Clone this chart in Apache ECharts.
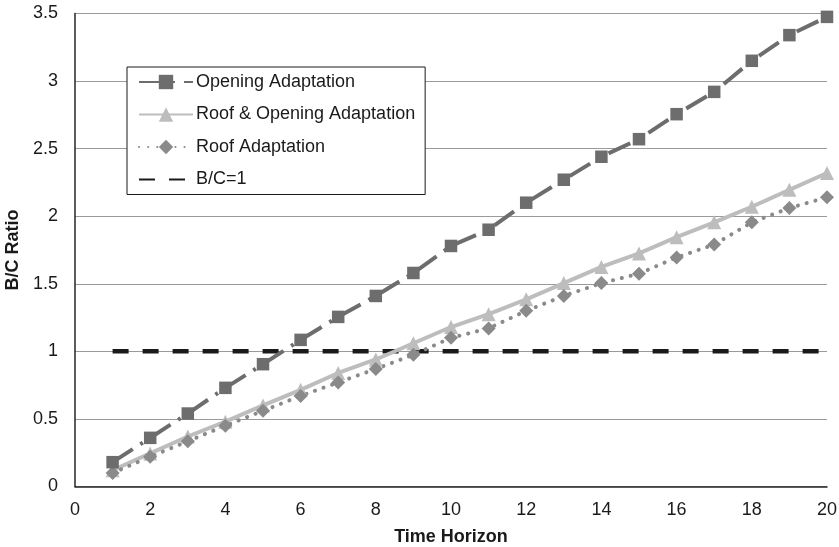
<!DOCTYPE html>
<html>
<head>
<meta charset="utf-8">
<script src="https://cdn.jsdelivr.net/npm/echarts@6/dist/echarts.min.js"></script>
<style>
  html, body { margin: 0; padding: 0; background: #fff; }
  #chart { width: 839px; height: 547px; }
</style>
</head>
<body>
<div id="chart"></div>
<script>
// Time horizon (years) and benefit/cost ratios for each adaptation option
const years = [1, 2, 3, 4, 5, 6, 7, 8, 9, 10, 11, 12, 13, 14, 15, 16, 17, 18, 19, 20];
const openingAdaptation = [0.18, 0.36, 0.54, 0.73, 0.905, 1.085, 1.255, 1.41, 1.58, 1.78, 1.90, 2.10, 2.27, 2.44, 2.57, 2.755, 2.92, 3.15, 3.34, 3.475];
const roofOpeningAdaptation = [0.12, 0.245, 0.37, 0.48, 0.60, 0.715, 0.84, 0.94, 1.06, 1.18, 1.275, 1.385, 1.505, 1.625, 1.725, 1.845, 1.955, 2.07, 2.195, 2.32];
const roofAdaptation = [0.10, 0.22, 0.335, 0.45, 0.56, 0.67, 0.77, 0.87, 0.975, 1.10, 1.17, 1.30, 1.41, 1.505, 1.575, 1.695, 1.79, 1.955, 2.06, 2.14];
const breakEven = [1, 1, 1, 1, 1, 1, 1, 1, 1, 1, 1, 1, 1, 1, 1, 1, 1, 1, 1, 1];

const xTicks = { min: 0, max: 20, interval: 2 };
const yTicks = { min: 0, max: 3.5, interval: 0.5 };

const pairs = (vals) => years.map((x, i) => [x, vals[i]]);

const FONT = 'Liberation Sans, Arial, sans-serif';

const chart = echarts.init(document.getElementById('chart'), null, { renderer: 'canvas' });

chart.setOption({
  animation: false,
  backgroundColor: '#ffffff',
  grid: { left: 75, right: 12, top: 13.5, bottom: 60.5, containLabel: false, outerBoundsMode: 'none' },
  legend: {
    orient: 'vertical',
    left: 127,
    top: 67,
    padding: [6, 10, 6, 11],
    borderColor: '#1a1a1a',
    borderWidth: 1,
    backgroundColor: '#ffffff',
    itemWidth: 54,
    itemHeight: 18,
    itemGap: 14.5,
    textStyle: { fontFamily: FONT, fontSize: 18, lineHeight: 18, color: '#1a1a1a', padding: [0, 0, 0, -2] },
    data: [
      'Opening Adaptation',
      'Roof & Opening Adaptation',
      'Roof Adaptation',
      { name: 'B/C=1', itemStyle: { opacity: 0 } }
    ]
  },
  xAxis: {
    type: 'value',
    min: xTicks.min, max: xTicks.max, interval: xTicks.interval,
    name: 'Time Horizon',
    nameLocation: 'middle',
    nameGap: 42,
    nameTextStyle: { fontFamily: FONT, fontSize: 18, fontWeight: 'bold', color: '#1a1a1a' },
    axisLine: { show: true, lineStyle: { color: '#262626', width: 1.5 } },
    axisTick: { show: false },
    axisLabel: { fontFamily: FONT, fontSize: 18, color: '#1a1a1a', margin: 15 },
    splitLine: { show: false }
  },
  yAxis: {
    type: 'value',
    min: yTicks.min, max: yTicks.max, interval: yTicks.interval,
    name: 'B/C Ratio',
    nameLocation: 'middle',
    nameRotate: 90,
    nameGap: 48,
    nameTextStyle: { fontFamily: FONT, fontSize: 18, fontWeight: 'bold', color: '#1a1a1a' },
    axisLine: { show: true, lineStyle: { color: '#262626', width: 1.5 } },
    axisTick: { show: false },
    axisLabel: { fontFamily: FONT, fontSize: 18, color: '#1a1a1a', margin: 17 },
    splitLine: { show: true, lineStyle: { color: '#9a9a9a', width: 1 } }
  },
  series: [
    {
      name: 'Opening Adaptation',
      type: 'line',
      data: pairs(openingAdaptation),
      symbol: 'rect',
      symbolSize: 12.5,
      itemStyle: { color: '#6d6d6d' },
      lineStyle: { color: '#6d6d6d', width: 4, type: [24, 9, 3, 9] },
      z: 4
    },
    {
      name: 'Roof & Opening Adaptation',
      type: 'line',
      data: pairs(roofOpeningAdaptation),
      symbol: 'triangle',
      symbolSize: 14,
      itemStyle: { color: '#bdbdbd' },
      lineStyle: { color: '#bdbdbd', width: 4, type: 'solid' },
      z: 3
    },
    {
      name: 'Roof Adaptation',
      type: 'line',
      data: pairs(roofAdaptation),
      symbol: 'diamond',
      symbolSize: 14,
      itemStyle: { color: '#8a8a8a' },
      lineStyle: { color: '#8a8a8a', width: 4, type: [0.1, 9], cap: 'round' },
      z: 3
    },
    {
      name: 'B/C=1',
      type: 'line',
      data: pairs(breakEven),
      symbol: 'none',
      itemStyle: { color: '#1a1a1a' },
      lineStyle: { color: '#1a1a1a', width: 4.5, type: [16, 14] },
      z: 2
    }
  ]
});
</script>
</body>
</html>
